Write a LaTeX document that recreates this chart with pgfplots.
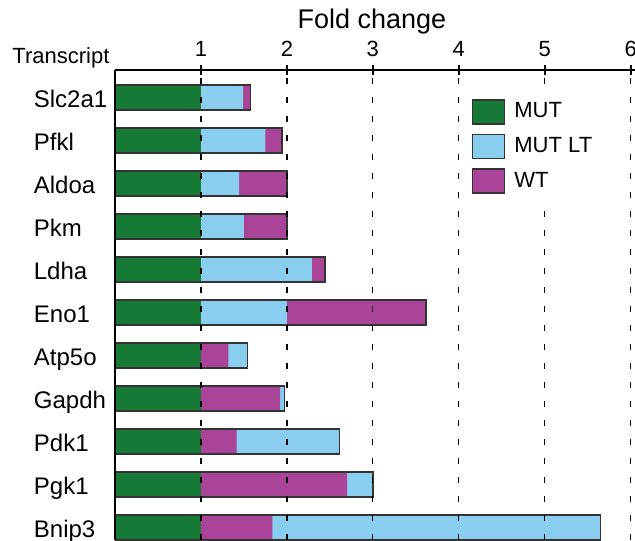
\documentclass[border=0pt]{standalone}
\usepackage{pgfplots}
\pgfplotsset{compat=1.18}
\usepackage{pgfplotstable}
\usepackage{fontspec}
\setmainfont{Liberation Sans}
\definecolor{mutgreen}{HTML}{167A36}
\definecolor{mutlt}{HTML}{89CDEF}
\definecolor{wtpurple}{HTML}{A94499}
\definecolor{edge}{HTML}{333333}
\pgfplotsset{boxlegend/.style={legend image code/.code={\draw[##1, line width=0.8pt] (0pt,-6pt) rectangle (16pt,6pt);}}}

% y = -index of transcript (0 = Slc2a1 ... 10 = Bnip3)
\pgfplotstableread{
y x
0 1.575
-1 1.94
-2 2.0
-3 2.0
-4 2.44
-5 3.62
}\purplelong
\pgfplotstableread{
y x
0 1.49
-1 1.75
-2 1.445
-3 1.50
-4 2.29
-5 2.0
}\blueshort
\pgfplotstableread{
y x
-6 1.54
-7 1.97
-8 2.61
-9 3.0
-10 5.65
}\bluelong
\pgfplotstableread{
y x
-6 1.32
-7 1.92
-8 1.415
-9 2.70
-10 1.83
}\purpleshort
\pgfplotstableread{
y x
0 1
-1 1
-2 1
-3 1
-4 1
-5 1
-6 1
-7 1
-8 1
-9 1
-10 1
}\greentab

\begin{document}
\begin{tikzpicture}
\useasboundingbox (0,0) rectangle (317.5pt,270pt);
\begin{axis}[
  at={(57.5pt,235pt)}, anchor=north west,
  width=260pt, height=235pt, scale only axis,
  xmin=0, xmax=6.05, ymin=-10.29, ymax=0.64,
  axis x line=top, axis y line=left,
  axis line style={-, line width=1pt, black},
  xbar, bar width=12.5pt, bar shift=0pt,
  xtick={1,2,3,4,5,6},
  xtick align=center,
  major tick length=5pt,
  xtick style={black, line width=0.8pt},
  xticklabel style={font=\fontsize{11}{13}\selectfont, anchor=base, inner sep=0pt, yshift=4pt},
  ytick={0,-1,-2,-3,-4,-5,-6,-7,-8,-9,-10},
  yticklabels={Slc2a1,Pfkl,Aldoa,Pkm,Ldha,Eno1,Atp5o,Gapdh,Pdk1,Pgk1,Bnip3},
  ytick style={draw=none},
  yticklabel style={font=\fontsize{12}{14}\selectfont, anchor=base west, inner sep=0pt, xshift=-35.75pt, yshift=-5pt},
  xmajorgrids,
  grid style={black, line width=0.6pt, dash pattern=on 3pt off 6.5pt},
  axis on top,
  legend style={at={(axis cs:4.151,-0.034)}, anchor=north west, xshift=-4pt, yshift=4pt,
    draw=none, fill=white,
    inner sep=4pt, outer sep=0pt, row sep=4.5pt, column sep=4.5pt,
    nodes={inner sep=0pt, anchor=west}, font=\fontsize{11}{13}\selectfont},
  legend cell align=left,
  /pgf/number format/assume math mode=true,
]
\addlegendimage{boxlegend, fill=mutgreen, draw=edge}
\addlegendentry{MUT}
\addlegendimage{boxlegend, fill=mutlt, draw=edge}
\addlegendentry{MUT LT}
\addlegendimage{boxlegend, fill=wtpurple, draw=edge}
\addlegendentry{WT}

\addplot[forget plot, fill=wtpurple, draw=none] table[x=x,y=y] {\purplelong};
\addplot[forget plot, fill=mutlt, draw=none] table[x=x,y=y] {\bluelong};
\addplot[forget plot, fill=mutlt, draw=none] table[x=x,y=y] {\blueshort};
\addplot[forget plot, fill=wtpurple, draw=none] table[x=x,y=y] {\purpleshort};
\addplot[forget plot, fill=mutgreen, draw=none] table[x=x,y=y] {\greentab};
\addplot[forget plot, fill=none, draw=edge, line width=0.8pt] table[x=x,y=y] {\purplelong};
\addplot[forget plot, fill=none, draw=edge, line width=0.8pt] table[x=x,y=y] {\bluelong};
\end{axis}
\node[anchor=base, font=\fontsize{13.5}{16}\selectfont] at (186pt,255.5pt) {Fold change};
\node[anchor=base west, inner sep=0pt, font=\fontsize{11}{13}\selectfont] at (6pt,238pt) {Transcript};
\end{tikzpicture}
\end{document}
